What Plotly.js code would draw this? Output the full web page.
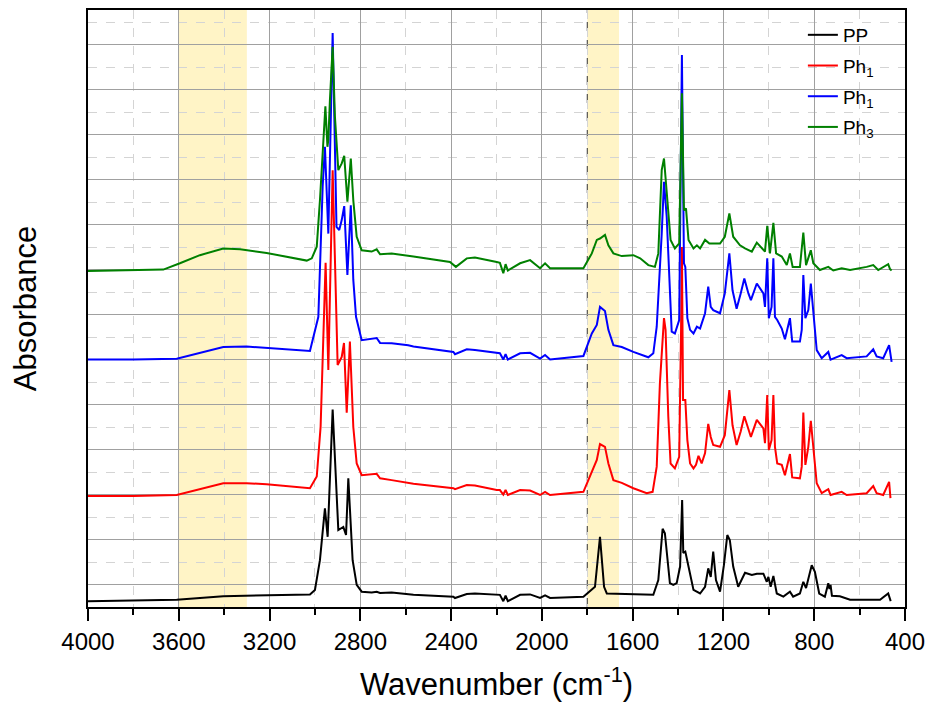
<!DOCTYPE html>
<html>
<head>
<meta charset="utf-8">
<script src="https://cdn.plot.ly/plotly-3.0.1.min.js"></script>
<style>html,body{margin:0;padding:0;background:#fff;}#chart{width:931px;height:707px;}</style>
</head>
<body>
<div id="chart"></div>
<script>
// ---- data (absorbance in arbitrary units, curves already offset as in the figure) ----
const seriesNames = ["PP", "Ph<sub>1</sub>", "Ph<sub>1</sub>", "Ph<sub>3</sub>"];

const ppWn = [4000,3800,3609,3404,3213,3022,3000,2978,2956,2944,2922,2897,2875,2863,2853,2834,2816,2794,2750,2728,2713,2662,2566,2390,2383,2331,2295,2199,2185,2170,2160,2150,2096,2052,2008,1986,1964,1817,1766,1744,1726,1714,1582,1509,1487,1468,1458,1446,1436,1421,1406,1391,1382,1377,1368,1354,1332,1303,1281,1267,1256,1245,1233,1215,1198,1183,1172,1157,1135,1105,1075,1053,1024,1009,1002,992,980,965,936,907,893,863,848,836,811,797,778,753,738,733,728,722,687,642,569,510,474,463];
const ppAbs = [-0.37,-0.36,-0.34,-0.26,-0.24,-0.22,-0.12,0.54,1.69,1.06,3.89,1.21,1.28,1.10,2.36,0.54,-0.01,-0.16,-0.18,-0.16,-0.19,-0.18,-0.23,-0.27,-0.30,-0.21,-0.20,-0.23,-0.23,-0.37,-0.25,-0.37,-0.23,-0.22,-0.30,-0.24,-0.30,-0.27,-0.05,1.06,-0.05,-0.20,-0.21,-0.23,0.10,1.24,1.14,0.54,0.03,-0.01,0.03,0.40,1.88,0.70,0.73,0.40,-0.12,-0.20,-0.05,0.36,0.17,0.73,0.10,-0.16,0.43,1.10,0.99,0.40,-0.05,0.26,0.21,0.24,0.24,0.06,0.17,-0.05,0.19,-0.20,-0.27,-0.16,-0.27,-0.20,0.06,-0.08,0.43,0.28,-0.20,-0.27,0.03,-0.10,-0.01,-0.25,-0.26,-0.34,-0.34,-0.34,-0.20,-0.37];

const ph1aWn = [4000,3800,3609,3500,3404,3301,3213,3022,2992,2975,2953,2941,2922,2900,2882,2872,2860,2846,2831,2816,2794,2728,2713,2662,2589,2566,2390,2383,2331,2295,2199,2185,2170,2160,2150,2096,2052,2008,1986,1964,1817,1780,1758,1744,1722,1707,1685,1648,1597,1538,1512,1494,1480,1462,1455,1443,1433,1414,1395,1387,1383,1378,1368,1359,1347,1332,1321,1310,1296,1281,1267,1256,1245,1215,1194,1174,1160,1142,1124,1108,1090,1079,1053,1039,1024,1017,1007,1000,988,980,973,963,943,929,907,897,863,855,848,839,826,815,804,789,767,738,728,679,657,569,540,525,496,470,464];
const ph1aAbs = [1.97,1.97,1.99,2.12,2.25,2.25,2.23,2.14,2.40,3.51,7.15,4.77,9.21,4.88,5.06,5.37,3.82,5.40,3.50,2.69,2.43,2.46,2.36,2.32,2.26,2.24,2.14,2.12,2.21,2.20,2.10,2.10,2.00,2.10,1.99,2.10,2.09,1.99,2.06,1.99,2.06,2.50,2.77,3.12,3.06,2.69,2.32,2.26,2.14,2.03,2.06,2.62,4.47,5.92,5.66,3.73,2.69,2.58,2.84,5.58,7.50,4.10,4.10,3.21,2.69,2.58,2.66,2.86,2.69,2.92,3.57,3.28,3.10,3.06,3.32,4.32,3.54,3.10,3.40,3.74,3.47,3.28,3.66,3.58,3.47,3.14,4.21,2.99,3.21,4.21,3.06,2.69,2.66,2.43,2.90,2.38,2.36,2.62,3.82,2.66,3.06,3.64,3.06,2.25,2.03,2.12,1.99,2.06,1.99,2.03,2.19,2.03,1.99,2.28,1.92];

const ph1bWn = [4000,3800,3609,3500,3404,3301,3213,3022,2985,2966,2956,2941,2922,2905,2893,2882,2871,2857,2842,2831,2819,2794,2728,2713,2662,2589,2566,2390,2383,2331,2295,2199,2185,2170,2160,2150,2096,2052,2008,1986,1964,1817,1780,1758,1744,1722,1707,1685,1648,1597,1531,1509,1494,1472,1462,1450,1438,1428,1414,1395,1383,1374,1368,1359,1347,1332,1317,1303,1296,1281,1267,1256,1245,1215,1194,1174,1160,1142,1124,1108,1090,1079,1053,1039,1024,1017,1007,1000,988,980,973,963,943,929,907,897,863,855,848,839,826,815,804,789,767,738,728,679,657,569,540,525,496,470,459];
const ph1bAbs = [5.00,5.00,5.02,5.15,5.28,5.29,5.26,5.19,5.95,8.84,9.73,7.80,12.26,7.95,7.88,8.10,8.41,6.88,8.43,6.77,5.95,5.43,5.48,5.37,5.36,5.32,5.29,5.17,5.12,5.23,5.21,5.14,5.14,5.00,5.12,5.00,5.14,5.15,5.02,5.10,5.00,5.08,5.58,5.77,6.17,6.08,5.66,5.32,5.28,5.17,5.05,5.14,5.73,7.80,8.95,8.17,6.54,5.62,5.58,5.88,11.77,7.14,7.06,5.92,5.66,5.58,5.73,5.69,5.80,6.03,6.62,6.17,6.10,6.03,6.47,7.36,6.54,6.13,6.47,6.80,6.47,6.32,6.69,6.58,6.47,6.17,7.25,5.92,6.17,7.25,5.95,5.88,5.69,5.45,5.92,5.40,5.40,5.66,6.88,5.92,6.10,6.69,6.10,5.21,5.03,5.17,5.00,5.10,5.03,5.07,5.23,5.07,5.03,5.32,4.95];

const ph3Wn = [4000,3668,3595,3507,3404,3330,3213,3036,3014,2992,2978,2966,2954,2945,2941,2934,2922,2912,2897,2882,2871,2857,2842,2831,2816,2794,2750,2728,2713,2662,2589,2566,2405,2379,2331,2295,2199,2185,2170,2160,2150,2096,2052,2008,1986,1964,1817,1780,1758,1744,1722,1707,1685,1648,1597,1567,1531,1502,1487,1472,1462,1453,1443,1433,1414,1395,1383,1374,1365,1354,1332,1317,1303,1281,1262,1215,1194,1174,1157,1127,1105,1075,1053,1031,1017,1007,995,980,968,943,921,907,895,863,848,836,815,804,775,738,716,679,642,569,540,518,474,466,459];
const ph3Abs = [6.97,7.00,7.14,7.32,7.47,7.45,7.37,7.20,7.25,7.51,8.54,9.70,10.63,9.73,9.88,10.77,11.95,10.40,9.21,9.36,9.53,8.51,9.47,8.54,7.73,7.43,7.40,7.45,7.34,7.36,7.30,7.29,7.17,7.06,7.25,7.27,7.17,7.15,6.92,7.12,6.98,7.14,7.21,7.03,7.14,7.03,7.03,7.36,7.66,7.69,7.77,7.54,7.36,7.30,7.32,7.25,7.10,7.06,7.36,9.21,9.47,8.84,8.17,7.66,7.47,7.58,10.92,8.32,8.36,7.66,7.47,7.54,7.47,7.66,7.58,7.58,7.73,8.25,7.73,7.54,7.47,7.40,7.60,7.47,7.40,7.97,7.36,8.04,7.36,7.29,7.10,7.36,7.06,7.06,7.82,7.10,7.43,7.14,6.99,7.06,6.98,7.03,6.99,7.06,7.10,6.99,7.12,7.01,6.98];

const xTickVals = [4000,3600,3200,2800,2400,2000,1600,1200,800,400];
const highlightBands = [[3600, 3300], [1800, 1660]];
const markerLine = 1800;

// ---- styling ----
const colors = ["#000000", "#FF0000", "#0000FF", "#008000"];
const FONT = "Liberation Sans, Arial, sans-serif";

const xs = [ppWn, ph1aWn, ph1bWn, ph3Wn];
const ys = [ppAbs, ph1aAbs, ph1bAbs, ph3Abs];
const traces = xs.map((x, i) => ({
  x: x, y: ys[i], type: "scatter", mode: "lines", name: seriesNames[i],
  legendgroup: "g" + i,
  line: {color: colors[i], width: 2}, hoverinfo: "skip"
}));

const shapes = highlightBands.map(b => ({
  type: "rect", xref: "x", yref: "paper", x0: b[0], x1: b[1], y0: 0, y1: 1,
  fillcolor: "#FFF4C6", line: {width: 0}, layer: "below"
}));
shapes.push({
  type: "line", xref: "x", yref: "paper", x0: markerLine, x1: markerLine, y0: 0, y1: 1,
  line: {color: "#333333", width: 1, dash: "dash"}, layer: "between"
});

const layout = {
  width: 931, height: 707,
  margin: {l: 88, r: 26, t: 10, b: 100},
  paper_bgcolor: "#ffffff", plot_bgcolor: "#ffffff",
  font: {family: FONT, color: "#000"},
  showlegend: true,
  legend: {
    x: 0.875, y: 0.99, xanchor: "left", yanchor: "top",
    bgcolor: "rgba(0,0,0,0)", borderwidth: 0,
    font: {family: FONT, size: 19, color: "#000"},
    tracegroupgap: 3
  },
  xaxis: {
    range: [4000, 400], autorange: false,
    tickvals: xTickVals, ticktext: xTickVals.map(String),
    ticks: "outside", ticklen: 12, tickwidth: 2, tickcolor: "#000",
    tickfont: {family: FONT, size: 24, color: "#000"},
    showline: true, linecolor: "#000", linewidth: 2, mirror: true,
    showgrid: true, gridcolor: "#A0A0A0", gridwidth: 1,
    zeroline: false,
    minor: {dtick: 200, tick0: 0, ticks: "outside", ticklen: 6, tickwidth: 2, tickcolor: "#000",
            showgrid: true, gridcolor: "#D4D4D4", griddash: "dash", gridwidth: 1},
    title: {text: "Wavenumber (cm<sup>-1</sup>)", font: {family: FONT, size: 31, color: "#000"}, standoff: 20}
  },
  yaxis: {
    range: [-0.5, 12.77], autorange: false,
    dtick: 1, tick0: 0,
    showticklabels: false, ticks: "",
    showline: true, linecolor: "#000", linewidth: 2, mirror: true,
    showgrid: true, gridcolor: "#A0A0A0", gridwidth: 1,
    zeroline: false,
    minor: {dtick: 0.5, tick0: 0, showgrid: true, gridcolor: "#D4D4D4", griddash: "dash", gridwidth: 1},
    title: {text: "Absorbance", font: {family: FONT, size: 31, color: "#000"}, standoff: 40}
  },
  shapes: shapes
};

Plotly.newPlot("chart", traces, layout, {displayModeBar: false, staticPlot: true});
</script>
</body>
</html>
